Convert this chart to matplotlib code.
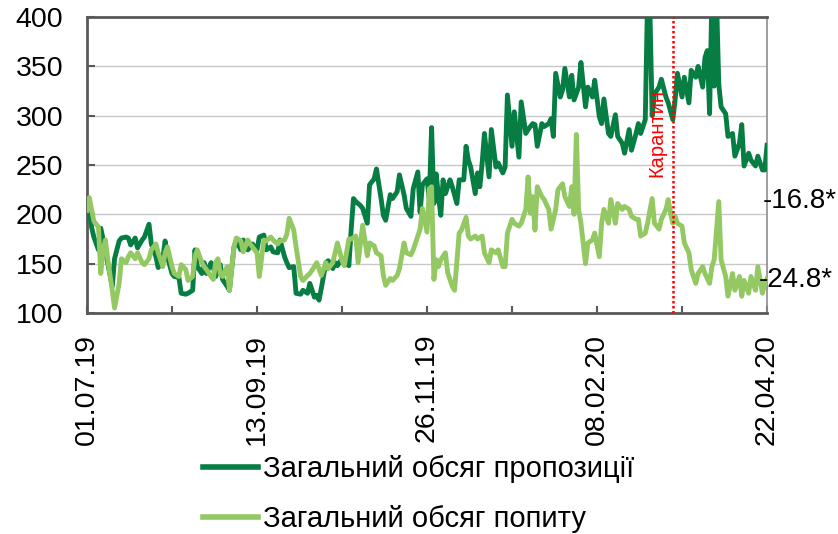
import matplotlib
matplotlib.use("Agg")
import matplotlib.pyplot as plt
import matplotlib.dates as mdates
import numpy as np
import pandas as pd

plt.rcParams['font.family'] = ['Liberation Sans', 'DejaVu Sans']

start_date = "2019-07-01"
end_date = "2020-04-22"
quarantine_date = "2020-03-12"

supply_days = [0, 1, 2, 3, 5, 6, 8, 9, 11, 12, 14, 15, 17, 18, 19, 21, 22, 24, 25, 27, 28, 30, 31, 33, 34, 35,
               37, 38, 40, 41, 43, 44, 46, 47, 48, 50, 51, 52, 54, 55, 56, 58, 59, 61, 62, 64, 65, 67, 68, 70,
               71, 72, 74, 75, 77, 78, 80, 81, 83, 84, 86, 87, 88, 90, 91, 93, 94, 96, 97, 99, 100, 101, 102,
               104, 105, 107, 108, 109, 111, 112, 114, 115, 116, 117, 119, 120, 122, 123, 125, 126, 128, 129,
               130, 132, 133, 135, 136, 138, 139, 141, 142, 144, 145, 146, 148, 149, 150, 151, 152, 153, 154,
               155, 156, 157, 158, 159, 161, 162, 164, 165, 166, 167, 169, 170, 171, 172, 173, 175, 176, 178,
               179, 181, 182, 183, 185, 186, 188, 189, 191, 192, 194, 195, 196, 198, 199, 201, 202, 203, 204,
               206, 207, 208, 210, 211, 212, 214, 215, 217, 218, 220, 221, 223, 224, 225, 227, 228, 230, 231,
               233, 234, 236, 237, 239, 240, 241, 243, 244, 245, 246, 247, 249, 250, 252, 253, 255, 256, 257,
               259, 260, 262, 263, 265, 266, 268, 269, 270, 271, 272, 273, 274, 275, 276, 278, 279, 281, 282,
               284, 285, 286, 288, 289, 291, 292, 294, 295, 296]
supply_vals = [198, 210, 187, 177, 164, 186, 164, 151, 127, 155, 173, 176, 177, 176, 169, 176, 166, 174, 177, 190,
               170, 157, 146, 155, 173, 157, 140, 137, 136, 120, 119, 120, 123, 164, 147, 140, 151, 140, 151,
               146, 137, 149, 134, 127, 123, 167, 173, 164, 174, 164, 167, 170, 164, 177, 179, 164, 167, 162,
               161, 174, 157, 151, 146, 147, 120, 119, 123, 120, 130, 116, 118, 113, 125, 151, 153, 145, 151,
               148, 155, 151, 148, 185, 216, 213, 209, 206, 191, 230, 236, 246, 216, 199, 194, 220, 216, 223,
               240, 220, 206, 198, 226, 243, 202, 230, 236, 216, 288, 211, 241, 218, 199, 235, 221, 228, 235,
               228, 211, 235, 235, 269, 255, 248, 221, 242, 228, 252, 282, 238, 286, 248, 252, 242, 248, 321,
               269, 304, 258, 314, 282, 286, 292, 291, 269, 292, 289, 292, 297, 279, 343, 319, 326, 348, 319,
               341, 316, 329, 354, 309, 329, 319, 336, 299, 292, 317, 282, 279, 301, 279, 272, 262, 286, 265,
               282, 292, 282, 296, 420, 410, 300, 322, 329, 337, 319, 313, 296, 316, 343, 319, 339, 313, 346,
               339, 350, 329, 359, 366, 302, 420, 330, 420, 332, 309, 302, 279, 282, 259, 272, 291, 249, 262,
               255, 249, 259, 245, 245, 270]

demand_days = [0, 1, 2, 3, 5, 6, 7, 8, 9, 11, 12, 14, 15, 17, 18, 19, 21, 22, 24, 25, 27, 28, 30, 31, 33, 34, 35,
               37, 38, 40, 41, 43, 44, 46, 47, 48, 50, 51, 52, 54, 55, 56, 57, 58, 59, 61, 62, 64, 65, 67, 68,
               70, 71, 72, 74, 75, 77, 78, 80, 81, 83, 84, 86, 87, 88, 90, 91, 93, 94, 96, 97, 99, 100, 101,
               102, 104, 105, 107, 108, 109, 111, 112, 114, 115, 117, 118, 120, 122, 123, 125, 126, 128, 129,
               130, 132, 133, 135, 136, 138, 139, 141, 142, 144, 145, 146, 148, 149, 150, 151, 152, 153, 154,
               156, 157, 159, 160, 162, 163, 165, 166, 167, 169, 170, 172, 173, 175, 176, 178, 179, 181, 182,
               183, 185, 186, 188, 189, 191, 192, 193, 194, 195, 196, 198, 199, 201, 202, 204, 205, 207, 208,
               210, 211, 212, 213, 214, 215, 217, 218, 220, 221, 223, 224, 225, 227, 228, 230, 231, 233, 234,
               236, 237, 239, 240, 241, 243, 244, 246, 247, 249, 250, 252, 253, 254, 255, 256, 257, 259, 260,
               262, 263, 265, 266, 268, 269, 271, 272, 273, 275, 276, 278, 279, 281, 282, 284, 285, 286, 288,
               289, 291, 292, 294, 295, 296]
demand_vals = [204, 217, 205, 193, 187, 140, 164, 174, 155, 123, 105, 130, 155, 151, 157, 161, 155, 161, 151,
               149, 155, 164, 170, 161, 147, 161, 167, 147, 140, 137, 149, 144, 133, 137, 157, 164, 151, 147,
               144, 137, 134, 151, 155, 140, 137, 147, 123, 167, 176, 173, 162, 174, 170, 167, 161, 137, 174,
               173, 177, 174, 170, 173, 174, 180, 196, 184, 167, 137, 133, 138, 140, 147, 151, 145, 138, 151,
               145, 151, 161, 171, 153, 148, 175, 175, 178, 151, 189, 158, 171, 168, 161, 158, 138, 128, 135,
               133, 138, 145, 171, 161, 159, 164, 178, 185, 206, 182, 226, 228, 134, 154, 147, 154, 161, 141,
               127, 123, 181, 184, 197, 178, 175, 178, 175, 178, 161, 151, 164, 161, 164, 147, 147, 181, 195,
               191, 188, 191, 205, 238, 201, 218, 184, 228, 218, 215, 205, 185, 205, 225, 231, 218, 208, 228,
               200, 281, 205, 191, 150, 171, 174, 181, 157, 191, 205, 191, 215, 191, 211, 205, 208, 205, 198,
               195, 195, 178, 181, 191, 216, 191, 185, 195, 205, 215, 201, 191, 198, 191, 188, 171, 161, 144,
               130, 140, 147, 140, 130, 147, 154, 213, 154, 137, 117, 140, 123, 137, 117, 133, 120, 137, 123,
               147, 120, 130, 135]

series_labels = ["Загальний обсяг пропозиції", "Загальний обсяг попиту"]
end_labels = ["-16.8*", "-24.8*"]
end_label_values = [214, 133]
quarantine_label = "Карантин"
y_ticks = [100, 150, 200, 250, 300, 350, 400]

c_dark = "#067D43"
c_light = "#93C862"

t0 = pd.Timestamp(start_date)
t1 = pd.Timestamp(end_date)
sx = t0 + pd.to_timedelta(supply_days, unit="D")
dx = t0 + pd.to_timedelta(demand_days, unit="D")

fig = plt.figure(figsize=(8.38, 5.34), dpi=100)
ax = fig.add_axes([0.1038, 0.4139, 0.8115, 0.5541])

ax.plot(sx, supply_vals, color=c_dark, lw=3.5, solid_joinstyle="round", label=series_labels[0], zorder=3)
ax.plot(dx, demand_vals, color=c_light, lw=3.5, solid_joinstyle="round", label=series_labels[1], zorder=4)

ax.set_xlim(t0, t1)
ax.set_ylim(100, 400)
ax.set_yticks(y_ticks)
ax.grid(axis="y", color="#C8C8C8", lw=1.0)
ax.set_axisbelow(True)

major = [t0 + pd.Timedelta(days=74 * i) for i in range(5)]
minor = [t0 + pd.Timedelta(days=37 * i) for i in range(9)]
ax.set_xticks(major)
ax.set_xticks(minor, minor=True)
ax.xaxis.set_major_formatter(mdates.DateFormatter("%d.%m.%y"))
for lab in ax.get_xticklabels():
    lab.set_rotation(90)
ax.tick_params(axis="x", which="both", direction="in", length=5, width=1.5, color="#595959",
               labelsize=20.5, pad=15)
ax.tick_params(axis="y", direction="in", length=6, width=1.5, color="#595959", labelsize=20.5, pad=17)

for side in ["left", "bottom", "top"]:
    ax.spines[side].set_color("#595959")
    ax.spines[side].set_linewidth(2)
ax.spines["right"].set_color("#8C8C8C")
ax.spines["right"].set_linewidth(1.2)

qd = pd.Timestamp(quarantine_date)
ax.axvline(qd, color="#FF0000", lw=1.8, ls=(0, (1, 1)), zorder=5)
ax.text(qd - pd.Timedelta(days=7), 282, quarantine_label, rotation=90, color="#FF0000",
        fontsize=14.5, ha="center", va="center", zorder=6)

end_right = [837, 833]
for txt, v, xr in zip(end_labels, end_label_values, end_right):
    fy = ax.transData.transform((0, v))[1] / fig.bbox.height
    fig.text(xr / 838, fy, txt, fontsize=20, ha="right", va="center")

leg = fig.legend(loc="upper left", bbox_to_anchor=(203 / 838, 1 - 455 / 534), frameon=False, fontsize=21,
                 handlelength=1.9, handletextpad=0.15, labelspacing=0.75, borderaxespad=0, borderpad=0)
for h in leg.get_lines():
    h.set_linewidth(4)

fig.savefig("out.png", dpi=100)
